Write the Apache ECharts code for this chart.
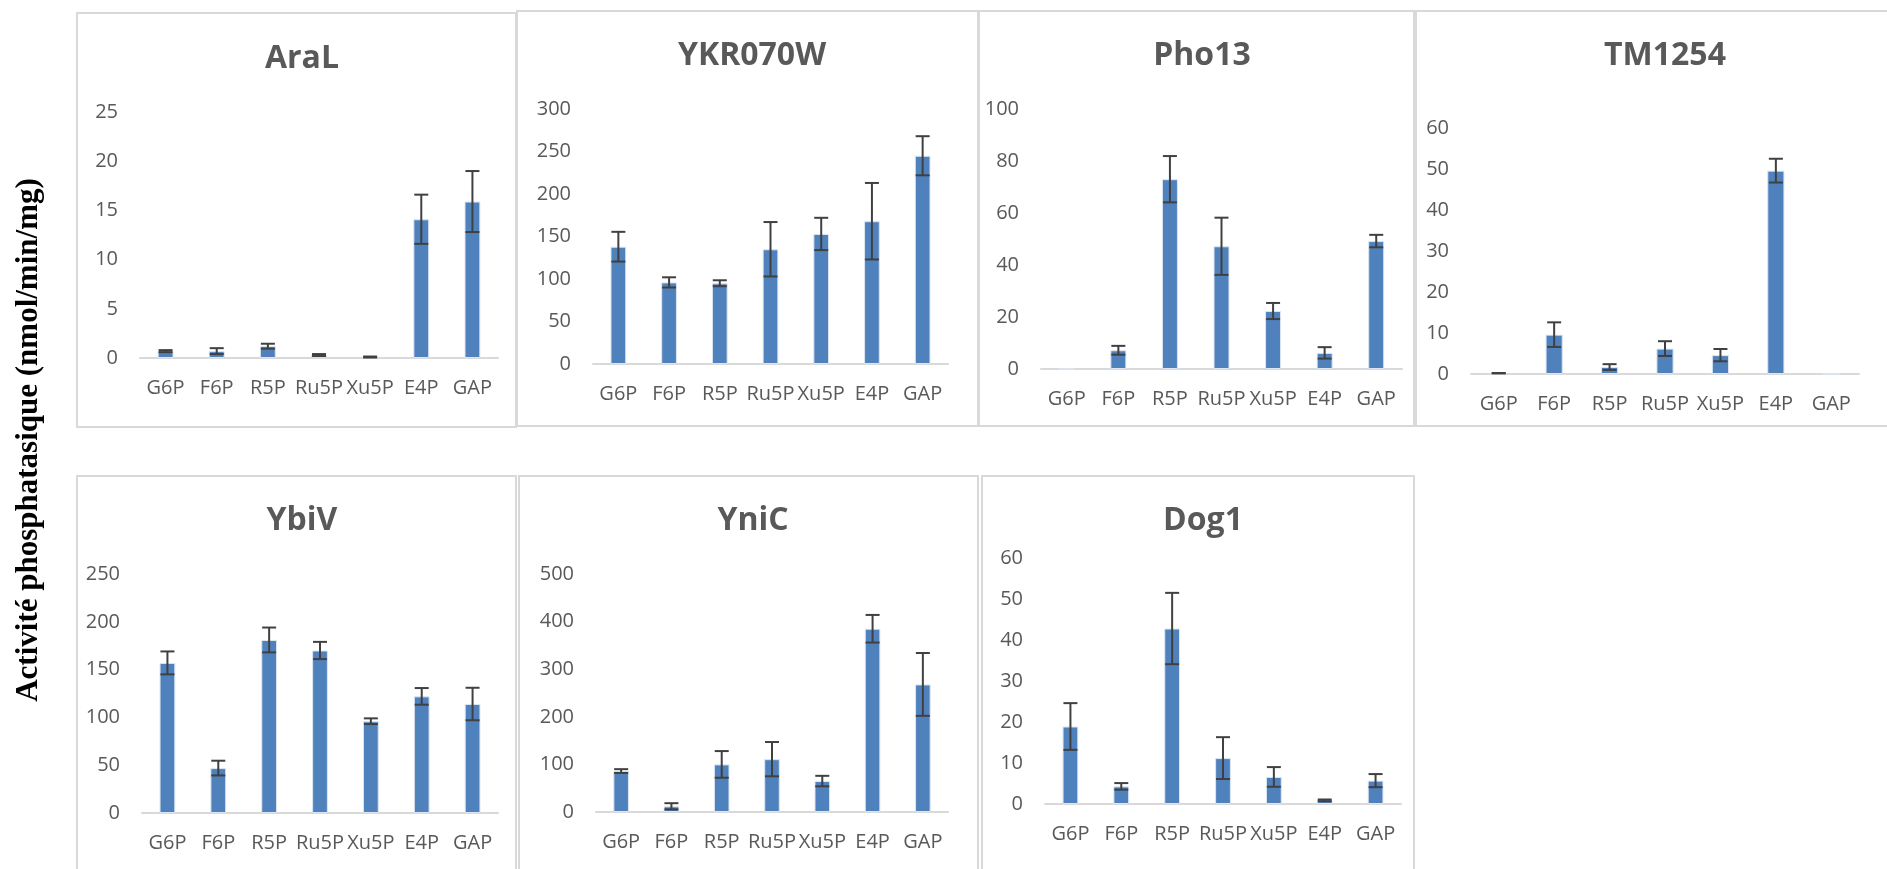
<!DOCTYPE html>
<html>
<head>
<meta charset="utf-8">
<script src="https://cdn.jsdelivr.net/npm/echarts@6/dist/echarts.min.js"></script>
<style>
  html, body { margin: 0; padding: 0; background: #fff; }
  #main { width: 1887px; height: 869px; }
</style>
</head>
<body>
<div id="main"></div>
<script>
const categories = ["G6P", "F6P", "R5P", "Ru5P", "Xu5P", "E4P", "GAP"];

const enzymeNames = ["AraL", "YKR070W", "Pho13", "TM1254", "YbiV", "YniC", "Dog1"];

const araL = [0.7, 0.7, 1.2, 0.3, 0.1, 14.1, 15.9];
const araLErr = [0.1, 0.3, 0.25, 0.1, 0.05, 2.5, 3.1];

const ykr070w = [138, 96, 95, 135, 153, 168, 245];
const ykr070wErr = [17.5, 6, 3.5, 32, 19, 45, 23];

const pho13 = [0, 7.2, 73, 47.2, 22.3, 6.2, 49.2];
const pho13Err = [0, 1.7, 8.9, 11, 3.1, 2.2, 2.4];

const tm1254 = [0.2, 9.6, 1.7, 6.2, 4.6, 49.6, 0];
const tm1254Err = [0.05, 3, 0.7, 1.8, 1.5, 2.9, 0];

const ybiV = [157, 47, 181, 170, 96, 122, 114];
const ybiVErr = [12, 7.7, 13, 9, 3, 8.7, 17];

const yniC = [86, 12, 100, 111, 65, 385, 268];
const yniCErr = [4, 6.5, 28, 36, 11, 29, 66];

const dog1 = [18.9, 4.3, 42.8, 11.2, 6.6, 0.9, 5.7];
const dog1Err = [5.7, 0.8, 8.7, 5.1, 2.4, 0.2, 1.6];

const yMaxes = [25, 300, 100, 60, 250, 500, 60];
const yIntervals = [5, 50, 20, 10, 50, 100, 10];

const seriesValues = [araL, ykr070w, pho13, tm1254, ybiV, yniC, dog1];
const seriesErrors = [araLErr, ykr070wErr, pho13Err, tm1254Err, ybiVErr, yniCErr, dog1Err];

// layout of each panel: plot area and frame (pixels)
const plots = [
  { l: 140, r: 498, t: 112, b: 358 },
  { l: 593, r: 948, t: 109, b: 364 },
  { l: 1041, r: 1402, t: 109, b: 369 },
  { l: 1471, r: 1859, t: 128, b: 374 },
  { l: 142, r: 498, t: 574, b: 813 },
  { l: 596, r: 948, t: 574, b: 812 },
  { l: 1045, r: 1401, t: 558, b: 804 }
];
const frames = [
  { x: 77, y: 13, w: 439, h: 414 },
  { x: 517, y: 11, w: 462, h: 415 },
  { x: 978, y: 11, w: 436, h: 415 },
  { x: 1416, y: 11, w: 480, h: 415 },
  { x: 77, y: 476, w: 439, h: 410 },
  { x: 519, y: 476, w: 459, h: 410 },
  { x: 982, y: 476, w: 432, h: 410 }
];
const titlePos = [
  [297, 58], [747, 55], [1197, 55], [1660, 55],
  [297, 520], [748, 520], [1198, 520]
];

const textColor = "#595959";
const font = "'Open Sans', 'Noto Sans', sans-serif";

let myChart = echarts.init(document.getElementById("main"), null, { renderer: "canvas" });

let grids = [], xAxes = [], yAxes = [], series = [], titles = [], graphics = [];

frames.forEach((f) => {
  graphics.push({
    type: "rect",
    shape: { x: f.x, y: f.y, width: f.w, height: f.h },
    style: { fill: "none", stroke: "#D9D9D9", lineWidth: 2 },
    z: 0
  });
});

graphics.push({
  type: "text",
  x: 29,
  y: 440,
  rotation: Math.PI / 2,
  style: {
    text: "Activité phosphatasique (nmol/min/mg)",
    font: "bold 31px 'Liberation Serif', serif",
    fill: "#000",
    align: "center",
    verticalAlign: "middle"
  }
});

plots.forEach((p, i) => {
  grids.push({ left: p.l, top: p.t, width: p.r - p.l, height: p.b - p.t, containLabel: false });
  titles.push({
    text: enzymeNames[i],
    left: titlePos[i][0],
    top: titlePos[i][1] - 20,
    textAlign: "center",
    textStyle: { fontSize: 32, fontWeight: "bold", color: textColor, fontFamily: font }
  });
  xAxes.push({
    type: "category",
    gridIndex: i,
    data: categories,
    axisLine: { lineStyle: { color: "#D9D9D9", width: 2 } },
    axisTick: { show: false },
    axisLabel: { color: textColor, fontSize: 20, fontFamily: font, margin: 20, interval: 0 }
  });
  yAxes.push({
    type: "value",
    gridIndex: i,
    min: 0,
    max: yMaxes[i],
    interval: yIntervals[i],
    axisLine: { show: false },
    axisTick: { show: false },
    splitLine: { show: false },
    axisLabel: { color: textColor, fontSize: 20, fontFamily: font, margin: 22 }
  });
  series.push({
    type: "bar",
    name: enzymeNames[i],
    xAxisIndex: i,
    yAxisIndex: i,
    data: seriesValues[i],
    barWidth: "31%",
    itemStyle: { color: "#4F81BD", borderColor: "#DCE6F2", borderWidth: 1 },
    silent: true
  });
  const errData = seriesValues[i].map((v, k) => [k, v, seriesErrors[i][k]]);
  series.push({
    type: "custom",
    xAxisIndex: i,
    yAxisIndex: i,
    data: errData,
    silent: true,
    z: 5,
    renderItem: function (params, api) {
      const k = api.value(0), v = api.value(1), e = api.value(2);
      if (e <= 0) return null;
      const hi = api.coord([k, v + e]);
      const lo = api.coord([k, v - e]);
      const cap = 7;
      const st = { stroke: "#404040", lineWidth: 2 };
      return {
        type: "group",
        children: [
          { type: "line", shape: { x1: hi[0], y1: hi[1], x2: lo[0], y2: lo[1] }, style: st },
          { type: "line", shape: { x1: hi[0] - cap, y1: hi[1], x2: hi[0] + cap, y2: hi[1] }, style: st },
          { type: "line", shape: { x1: lo[0] - cap, y1: lo[1], x2: lo[0] + cap, y2: lo[1] }, style: st }
        ]
      };
    }
  });
});

let option = {
  backgroundColor: "#fff",
  animation: false,
  title: titles,
  grid: grids,
  xAxis: xAxes,
  yAxis: yAxes,
  series: series,
  graphic: graphics
};
myChart.setOption(option, true);
</script>
</body>
</html>
